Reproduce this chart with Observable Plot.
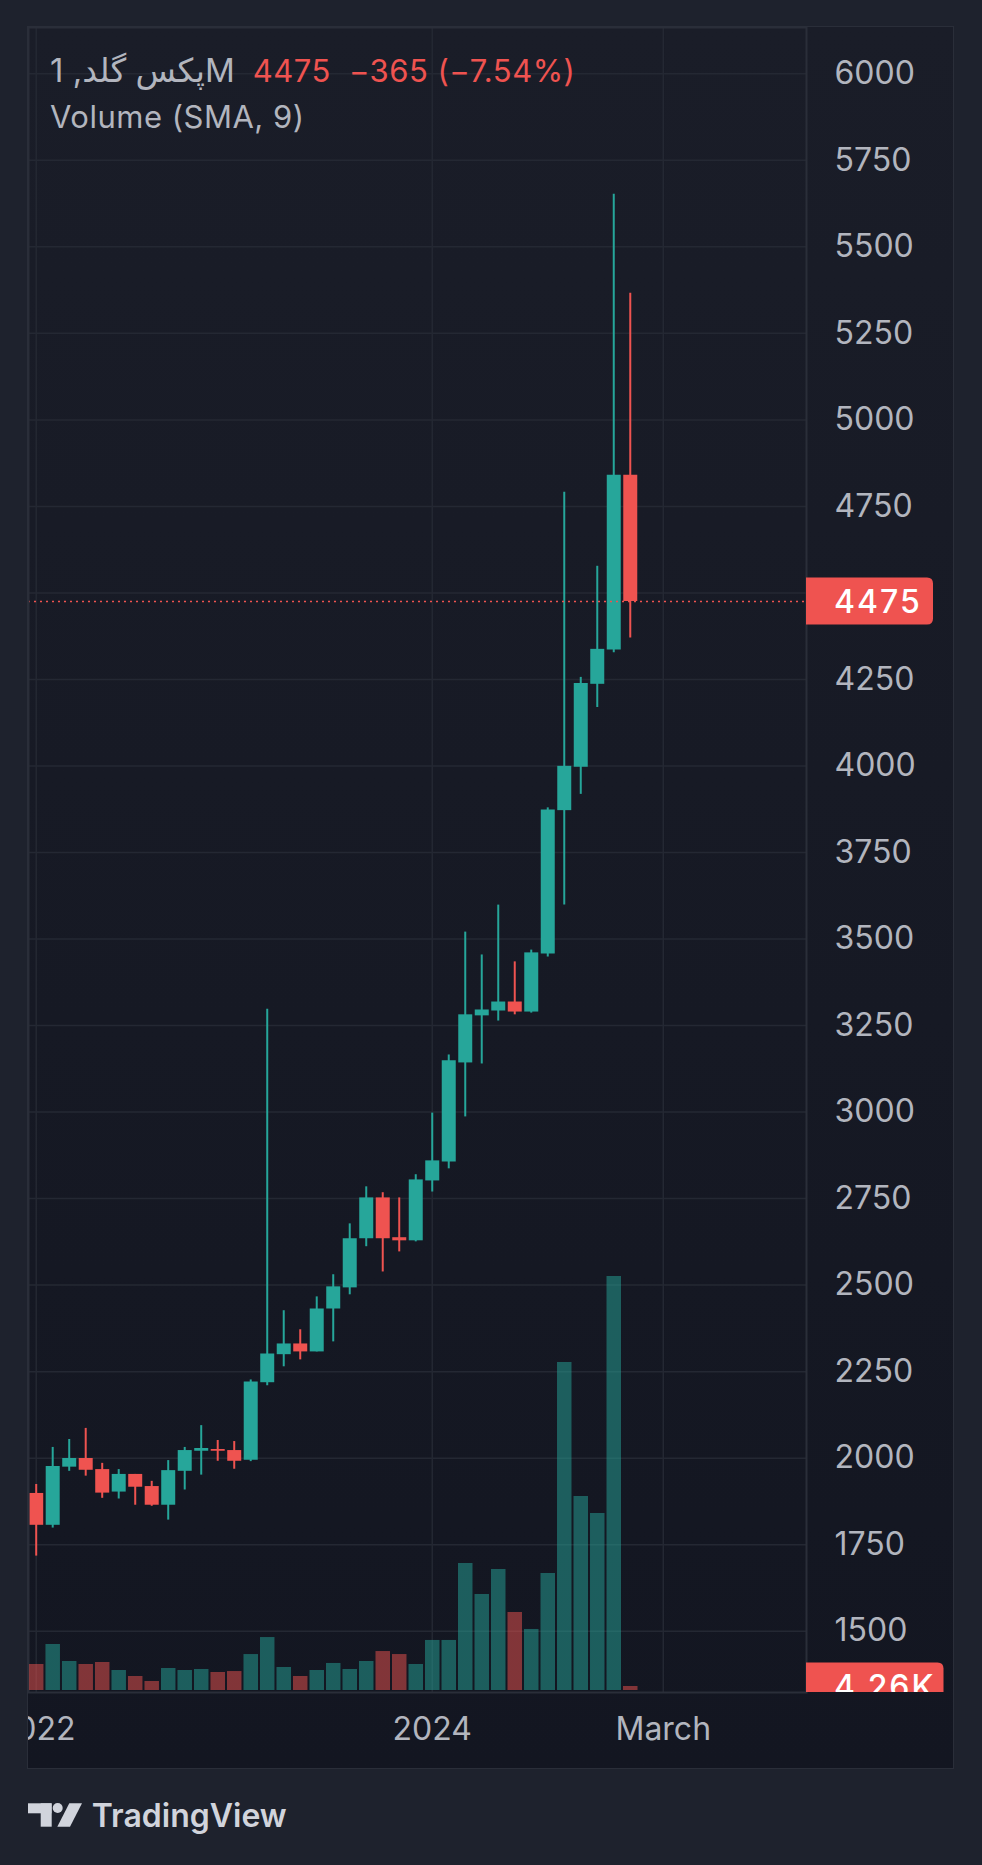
<!DOCTYPE html>
<html>
<head>
<meta charset="utf-8">
<script src="https://cdn.jsdelivr.net/npm/d3@7"></script>
<script src="https://cdn.jsdelivr.net/npm/@observablehq/plot@0.6"></script>
<style>
  html, body { margin: 0; padding: 0; background: #1e222d; }
  body { width: 982px; height: 1865px; position: relative; overflow: hidden;
         font-family: Inter, "DejaVu Sans", sans-serif; }
  #panel { position: absolute; left: 28px; top: 27px; width: 925px; height: 1741px;
           background: linear-gradient(#1a1d28, #131621); overflow: hidden;
           box-shadow: 0 0 0 1px #2a2e39; }
  #panel svg { position: absolute; left: 0; top: 0; }
  #legend { position: absolute; left: 50px; top: 47px; color: #b2b5be; font-size: 31px; line-height: 46px;
            white-space: nowrap; letter-spacing: 0.5px; }
  #legend .sym { unicode-bidi: isolate; letter-spacing: 0; font-size: 33px; }
  #legend .red { color: #ef5350; margin-left: 18px; }
  #brand { position: absolute; left: 28px; top: 1798px; }
</style>
</head>
<body>
<div id="panel"></div>
<div id="legend">
  <div><span class="sym" dir="ltr" id="sym"></span><span class="red" id="last"></span><span class="red" id="chg"></span></div>
  <div id="study">Volume (SMA, 9)</div>
</div>
<svg id="brand" width="270" height="45" viewBox="28 1798 270 45">
  <rect x="28" y="1803.3" width="23.5" height="10" fill="#d1d4dc"/>
  <rect x="40.7" y="1803.3" width="11" height="23.4" fill="#d1d4dc"/>
  <circle cx="57.7" cy="1808" r="5" fill="#d1d4dc"/>
  <path d="M69.3,1803.3H82L70,1826.7H57.3Z" fill="#d1d4dc"/>
  <text x="91.7" y="1826.7" font-family="Inter, sans-serif" font-size="32" font-weight="600" fill="#d1d4dc">TradingView</text>
</svg>
<script>
// ---- data (monthly candles) ----
const symbolName = "پکس گلد";
const intervalLabel = "1M";
const months = ["2022-01","2022-02","2022-03","2022-04","2022-05","2022-06","2022-07","2022-08","2022-09","2022-10","2022-11","2022-12",
                "2023-01","2023-02","2023-03","2023-04","2023-05","2023-06","2023-07","2023-08","2023-09","2023-10","2023-11","2023-12",
                "2024-01","2024-02","2024-03","2024-04","2024-05","2024-06","2024-07","2024-08","2024-09","2024-10","2024-11","2024-12",
                "2025-01"];
const openPrices  = [1898,1806,1974,1999,1967,1902,1953,1918,1864,1962,2020,2025,2022,1994,2218,2299,2330,2307,2431,2492,2634,2752,2637,2628,2801,2856,3142,3278,3292,3318,3289,3457,3871,3996,4236,4335,4840];
const highPrices  = [1924,2031,2054,2086,1985,1967,1953,1933,1993,2031,2094,2051,2048,2226,3297,2426,2371,2466,2530,2677,2784,2767,2752,2819,2997,3165,3520,3454,3598,3434,3468,3879,4791,4256,4577,5652,5366];
const lowPrices   = [1717,1798,1962,1948,1884,1882,1864,1861,1821,1908,1951,1991,1968,1990,2209,2264,2284,2307,2336,2472,2611,2538,2596,2625,2769,2836,2986,3139,3263,3281,3286,3448,3598,3918,4169,4327,4370];
const closePrices = [1806,1976,1999,1965,1899,1953,1916,1864,1964,2022,2028,2020,1991,2220,2301,2330,2307,2431,2495,2634,2752,2634,2628,2804,2859,3148,3281,3295,3318,3289,3460,3873,3999,4238,4337,4840,4475];
const volumes     = [27700,49000,30900,27700,29800,21300,14900,9600,23400,21300,22400,19200,20200,38300,56400,24500,14900,21300,28800,22400,30900,41500,38300,27700,53300,53300,135300,102200,128900,83100,65000,124600,349300,206600,188500,440900,4260];
const priceTicks = [1500,1750,2000,2250,2500,2750,3000,3250,3500,3750,4000,4250,4500,4750,5000,5250,5500,5750,6000];
const timeTickMonths = ["2022-01","2024-01","2025-03"];
const timeTickLabels = ["2022","2024","March"];

// ---- styling ----
const GREEN = "#26a69a", RED = "#ef5350", GRID = "#242833", BORDER = "#2a2e39", TEXT = "#b2b5be";
const FONT = "Inter, 'DejaVu Sans', sans-serif";
const W = 925, H = 1741, MR = 147, MB = 76;
const xDomain = [-0.467, 46.68];
const yDomain = [1322.9, 6133.8];
const volDomain = [0, 1771000];
const FS = 32, LS = "2px";

const monthIndex = s => { const [y, m] = s.split("-").map(Number); return (y - 2022) * 12 + (m - 1); };
const data = months.map((m, k) => ({
  i: monthIndex(m), open: openPrices[k], high: highPrices[k], low: lowPrices[k],
  close: closePrices[k], volume: volumes[k], up: closePrices[k] >= openPrices[k]
}));
const ups = data.filter(d => d.up), downs = data.filter(d => !d.up);
const timeTicks = timeTickMonths.map((m, k) => ({i: monthIndex(m), label: timeTickLabels[k]}));
const last = data[data.length - 1], prev = data[data.length - 2];
// the price tag hides the tick label it sits on
const labelTicks = priceTicks.filter(t => Math.abs(t - last.close) >= 80);

function tag(value, label, width, clipBottom) {
  return (index, scales, values, dims) => {
    const y = scales.y(value);
    const x0 = dims.width - dims.marginRight;
    const h = 47, r = 6;
    const g = d3.create("svg:g");
    if (clipBottom) {
      const id = "clip" + Math.random().toString(36).slice(2);
      g.append("clipPath").attr("id", id).append("rect")
        .attr("x", 0).attr("y", 0).attr("width", dims.width).attr("height", dims.height - clipBottom);
      g.attr("clip-path", `url(#${id})`);
    }
    g.append("path").attr("fill", RED)
      .attr("d", `M${x0},${y - h/2}H${x0 + width - r}Q${x0 + width},${y - h/2} ${x0 + width},${y - h/2 + r}V${y + h/2 - r}Q${x0 + width},${y + h/2} ${x0 + width - r},${y + h/2}H${x0}Z`);
    g.append("text").attr("x", x0 + 28).attr("y", y).attr("dy", "0.36em")
      .attr("fill", "#ffffff").attr("font-size", FS).attr("font-weight", 500)
      .attr("letter-spacing", LS)
      .attr("text-anchor", "start").text(label);
    return g.node();
  };
}

const common = {
  width: W, height: H, marginTop: 0, marginLeft: 0, marginRight: MR,
  style: {background: "transparent", overflow: "hidden", fontFamily: FONT}
};

const mainPlot = Plot.plot({
  ...common,
  marginBottom: MB,
  x: {type: "linear", domain: xDomain, axis: null},
  y: {type: "linear", domain: yDomain, axis: null},
  marks: [
    Plot.ruleY(priceTicks, {stroke: GRID, strokeWidth: 1.5}),
    Plot.ruleX(timeTicks, {x: "i", stroke: GRID, strokeWidth: 1.5}),
    Plot.ruleX(ups,   {x: "i", y1: "low", y2: "high", stroke: GREEN, strokeWidth: 2}),
    Plot.ruleX(downs, {x: "i", y1: "low", y2: "high", stroke: RED, strokeWidth: 2}),
    Plot.ruleX(ups,   {x: "i", y1: "open", y2: "close", stroke: GREEN, strokeWidth: 14}),
    Plot.ruleX(downs, {x: "i", y1: "open", y2: "close", stroke: RED, strokeWidth: 14}),
    Plot.ruleY([last.close], {stroke: RED, strokeWidth: 1.5, strokeDasharray: "2,4"}),
    Plot.frame({stroke: BORDER, strokeWidth: 2}),
    Plot.text(labelTicks, {y: d => d, text: d => String(d), frameAnchor: "right", dx: 28,
                           textAnchor: "start", fill: TEXT, fontSize: FS, letterSpacing: LS}),
    Plot.text(timeTicks, {x: "i", text: "label", frameAnchor: "bottom", dy: 47, fill: TEXT, fontSize: FS, letterSpacing: LS}),
    tag(last.close, d3.format("d")(last.close), 127, 0)
  ]
});

const volPlot = Plot.plot({
  ...common,
  marginBottom: MB + 2,
  x: {type: "linear", domain: xDomain, axis: null},
  y: {type: "linear", domain: volDomain, axis: null},
  marks: [
    Plot.ruleX(ups,   {x: "i", y1: 0, y2: "volume", stroke: GREEN, strokeOpacity: 0.5, strokeWidth: 14.5}),
    Plot.ruleX(downs, {x: "i", y1: 0, y2: "volume", stroke: RED, strokeOpacity: 0.5, strokeWidth: 14.5}),
    tag(last.volume, d3.format(".3s")(last.volume).replace("k", "K"), 137.5, MB)
  ]
});

const panel = document.getElementById("panel");
panel.appendChild(mainPlot);
panel.appendChild(volPlot);

// legend texts from data
const change = last.close - prev.close;
const minus = "\u2212";
const fmtSigned = v => (v < 0 ? minus : "+") + Math.abs(v);
document.getElementById("sym").textContent = `${symbolName}, ${intervalLabel}`;
document.getElementById("last").textContent = d3.format("d")(last.close);
document.getElementById("chg").textContent =
  `${fmtSigned(change)} (${(change < 0 ? minus : "+") + Math.abs(change / prev.close * 100).toFixed(2)}%)`;
</script>
</body>
</html>
